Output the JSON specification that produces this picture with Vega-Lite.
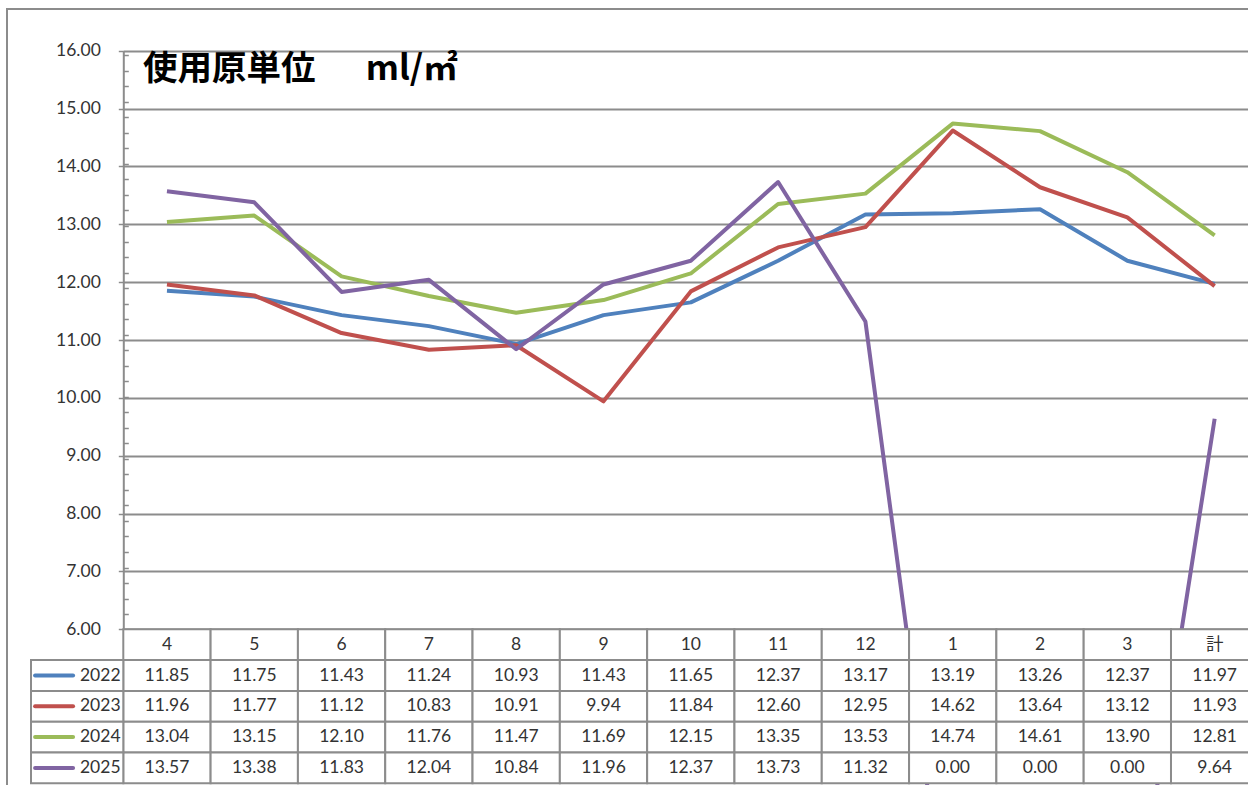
{
  "$schema": "https://vega.github.io/schema/vega-lite/v6.json",
  "width": 1262,
  "height": 790,
  "autosize": {"type": "none"},
  "padding": {"left": 7, "top": 9, "right": 0, "bottom": -14.5},
  "background": "white",
  "config": {
    "view": {"stroke": "#8c8c8c", "strokeWidth": 2},
    "font": "Lato"
  },
  "title": {
    "text": "使用原単位　\u00a0\u00a0ml/㎡",
    "anchor": "start",
    "frame": "group",
    "orient": "top",
    "offset": -105,
    "dx": 136,
    "baseline": "alphabetic",
    "font": "Noto Sans CJK JP",
    "fontSize": 34.5,
    "fontWeight": "bold",
    "color": "#000000"
  },
  "datasets": {
    "d": [
      {"cat": "4", "year": "2022", "v": 11.85}, {"cat": "5", "year": "2022", "v": 11.75}, {"cat": "6", "year": "2022", "v": 11.43}, {"cat": "7", "year": "2022", "v": 11.24}, {"cat": "8", "year": "2022", "v": 10.93}, {"cat": "9", "year": "2022", "v": 11.43}, {"cat": "10", "year": "2022", "v": 11.65}, {"cat": "11", "year": "2022", "v": 12.37}, {"cat": "12", "year": "2022", "v": 13.17}, {"cat": "1", "year": "2022", "v": 13.19}, {"cat": "2", "year": "2022", "v": 13.26}, {"cat": "3", "year": "2022", "v": 12.37}, {"cat": "計", "year": "2022", "v": 11.97},
      {"cat": "4", "year": "2023", "v": 11.96}, {"cat": "5", "year": "2023", "v": 11.77}, {"cat": "6", "year": "2023", "v": 11.12}, {"cat": "7", "year": "2023", "v": 10.83}, {"cat": "8", "year": "2023", "v": 10.91}, {"cat": "9", "year": "2023", "v": 9.94}, {"cat": "10", "year": "2023", "v": 11.84}, {"cat": "11", "year": "2023", "v": 12.60}, {"cat": "12", "year": "2023", "v": 12.95}, {"cat": "1", "year": "2023", "v": 14.62}, {"cat": "2", "year": "2023", "v": 13.64}, {"cat": "3", "year": "2023", "v": 13.12}, {"cat": "計", "year": "2023", "v": 11.93},
      {"cat": "4", "year": "2024", "v": 13.04}, {"cat": "5", "year": "2024", "v": 13.15}, {"cat": "6", "year": "2024", "v": 12.10}, {"cat": "7", "year": "2024", "v": 11.76}, {"cat": "8", "year": "2024", "v": 11.47}, {"cat": "9", "year": "2024", "v": 11.69}, {"cat": "10", "year": "2024", "v": 12.15}, {"cat": "11", "year": "2024", "v": 13.35}, {"cat": "12", "year": "2024", "v": 13.53}, {"cat": "1", "year": "2024", "v": 14.74}, {"cat": "2", "year": "2024", "v": 14.61}, {"cat": "3", "year": "2024", "v": 13.90}, {"cat": "計", "year": "2024", "v": 12.81},
      {"cat": "4", "year": "2025", "v": 13.57}, {"cat": "5", "year": "2025", "v": 13.38}, {"cat": "6", "year": "2025", "v": 11.83}, {"cat": "7", "year": "2025", "v": 12.04}, {"cat": "8", "year": "2025", "v": 10.84}, {"cat": "9", "year": "2025", "v": 11.96}, {"cat": "10", "year": "2025", "v": 12.37}, {"cat": "11", "year": "2025", "v": 13.73}, {"cat": "12", "year": "2025", "v": 11.32}, {"cat": "1", "year": "2025", "v": 0.00}, {"cat": "2", "year": "2025", "v": 0.00}, {"cat": "3", "year": "2025", "v": 0.00}, {"cat": "計", "year": "2025", "v": 9.64}
    ]
  },
  "data": {"name": "d"},
  "layer": [
    {
      "layer": [
        {
          "mark": {"type": "line", "strokeWidth": 4, "strokeJoin": "round"},
          "encoding": {
            "x": {
              "field": "cat", "type": "ordinal",
              "sort": ["4","5","6","7","8","9","10","11","12","1","2","3","計"],
              "scale": {"type": "point", "domain": ["4","5","6","7","8","9","10","11","12","1","2","3","計"], "range": [116.3, 1251.3], "padding": 0.5},
              "axis": null
            },
            "y": {
              "field": "v", "type": "quantitative",
              "scale": {"domain": [6, 16], "range": [620.3, 41.7], "nice": false, "zero": false},
              "axis": {
                "orient": "left",
                "offset": -116.3,
                "title": null,
                "values": [6,7,8,9,10,11,12,13,14,15,16,15.922,15.654,15.385,15.117,14.849,14.580,14.312,14.044,13.775,13.507,13.239,12.971,12.702,12.434,12.166,11.897,11.629,11.361,11.093,10.824,10.556,10.288,10.019,9.751,9.483,9.215,8.946,8.678,8.410,8.141,7.873,7.605,7.337,7.068,6.800,6.532,6.263],
                "domain": true, "domainColor": "#8c8c8c", "domainWidth": 2,
                "ticks": true, "tickColor": "#8c8c8c", "tickWidth": 1.5,
                "tickSize": {"condition": {"test": "round(datum.value) == datum.value", "value": 5}, "value": -5},
                "grid": true, "gridColor": "#8c8c8c", "gridWidth": 2,
                "gridOpacity": {"condition": {"test": "round(datum.value) == datum.value", "value": 1}, "value": 0},
                "labelExpr": "round(datum.value) == datum.value ? format(datum.value, '.2f') : ''",
                "labelOverlap": false, "labelFlush": false,
                "labelFont": "Lato", "labelFontSize": 17.5, "labelColor": "#333333", "labelPadding": 18
              }
            },
            "color": {
              "field": "year", "type": "nominal",
              "scale": {"domain": ["2022","2023","2024","2025"], "range": ["#4F81BD","#C0504D","#9BBB59","#8064A2"]},
              "legend": null
            }
          }
        }
      ]
    },
    {
      "layer": [
        {
          "transform": [{"filter": "datum.year == '2022'"}],
          "mark": {"type": "rect", "fill": "white", "stroke": "#8c8c8c", "strokeWidth": 2},
          "encoding": {
            "x": {"field": "cat", "type": "ordinal", "scale": {"type": "band", "domain": ["4","5","6","7","8","9","10","11","12","1","2","3","計"], "range": [116.3, 1251.3], "paddingInner": 0, "paddingOuter": 0}, "axis": null},
            "y": {"datum": "hdr", "type": "nominal", "scale": {"type": "band", "domain": ["hdr","2022","2023","2024","2025"], "range": [620.3, 774.3], "paddingInner": 0, "paddingOuter": 0}, "axis": null}
          }
        },
        {
          "mark": {"type": "rect", "fill": "white", "stroke": "#8c8c8c", "strokeWidth": 2},
          "encoding": {
            "x": {"field": "cat", "type": "ordinal", "axis": null},
            "y": {"field": "year", "type": "nominal", "axis": null}
          }
        },
        {
          "transform": [{"filter": "datum.year == '2022'"}],
          "mark": {"type": "text", "font": "Lato, Noto Sans CJK JP", "fontSize": 17.5, "color": "#333333"},
          "encoding": {
            "x": {"field": "cat", "type": "ordinal", "axis": null},
            "y": {"datum": "hdr", "type": "nominal", "axis": null},
            "text": {"field": "cat"}
          }
        },
        {
          "mark": {"type": "text", "font": "Lato", "fontSize": 17.5, "color": "#333333"},
          "encoding": {
            "x": {"field": "cat", "type": "ordinal", "axis": null},
            "y": {"field": "year", "type": "nominal", "axis": null},
            "text": {"field": "v", "format": ".2f"}
          }
        }
      ]
    },
    {
      "transform": [{"filter": "datum.cat == '4'"}],
      "layer": [
        {
          "mark": {"type": "rect", "fill": "white", "stroke": "#8c8c8c", "strokeWidth": 2},
          "encoding": {
            "x": {"datum": "sym", "type": "nominal", "bandPosition": 0, "scale": {"type": "band", "domain": ["sym", "lbl"], "range": [24, 116.3], "paddingInner": 0, "paddingOuter": 0}, "axis": null},
            "x2": {"datum": "lbl", "bandPosition": 1},
            "y": {"field": "year", "type": "nominal", "scale": {"type": "band", "domain": ["hdr","2022","2023","2024","2025"], "range": [620.3, 774.3], "paddingInner": 0, "paddingOuter": 0}, "axis": null}
          }
        },
        {
          "mark": {"type": "point", "shape": "stroke", "size": 1444, "strokeWidth": 4, "strokeCap": "round", "filled": false, "opacity": 1},
          "encoding": {
            "x": {"datum": "sym", "type": "nominal", "axis": null},
            "y": {"field": "year", "type": "nominal", "axis": null},
            "color": {"field": "year", "type": "nominal", "legend": null}
          }
        },
        {
          "mark": {"type": "text", "font": "Lato", "fontSize": 17.5, "color": "#333333"},
          "encoding": {
            "x": {"datum": "lbl", "type": "nominal", "axis": null},
            "y": {"field": "year", "type": "nominal", "axis": null},
            "text": {"field": "year"}
          }
        }
      ]
    }
  ],
  "resolve": {"scale": {"x": "independent", "y": "independent"}}
}
